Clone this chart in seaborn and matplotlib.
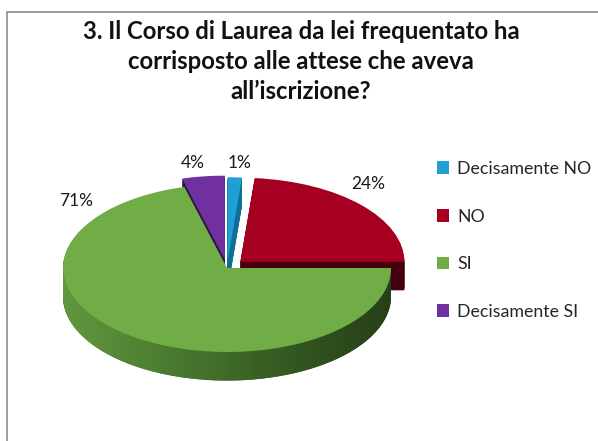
import numpy as np
import matplotlib
matplotlib.use("Agg")
import matplotlib.pyplot as plt
import seaborn as sns
from matplotlib.path import Path
from matplotlib.patches import PathPatch
from matplotlib.lines import Line2D
from matplotlib.colors import LinearSegmentedColormap

# ---- data ----
categories = ["Decisamente NO", "NO", "SI", "Decisamente SI"]
values = [1.4, 23.6, 70.8, 4.2]
title = ("3. Il Corso di Laurea da lei frequentato ha\n"
         "corrisposto alle attese che aveva\nall\u2019iscrizione?")

# ---- style ----
top_colors = ["#1f9fd4", "#a50021", "#70ad47", "#7030a0"]
side_colors = ["#0f6e96", "#45000e", "#3d6a27", "#2c1342"]
explode = [0.08, 0.11, 0.0, 0.1]

sns.set_theme(style="white")
plt.rcParams['font.family'] = ['Lato', 'DejaVu Sans']

W, H = 598, 441
fig = plt.figure(figsize=(W / 100, H / 100), dpi=100)
fig.patch.set_facecolor("white")

cx, cy = 227, 268      # pie centre in pixels (from top)
rx, ry = 164, 84       # ellipse radii in pixels
xl, yl = 1.38, 1.6
ax = fig.add_axes([(cx - xl * rx) / W, (H - cy - yl * ry) / H,
                   2 * xl * rx / W, 2 * yl * ry / H])
depth = 0.34
n_layers = 36

for k in range(n_layers):
    dy = -depth * (1 - k / n_layers)
    w, _ = ax.pie(values, colors=side_colors, startangle=90, counterclock=False,
                  explode=explode, center=(0, dy), frame=False,
                  wedgeprops=dict(linewidth=0))
    for wd in w:
        wd.set_zorder(1)

wedges, _, autotexts = ax.pie(values, colors=top_colors, startangle=90,
                              counterclock=False, explode=explode, frame=False,
                              autopct='%1.0f%%', pctdistance=1.2,
                              wedgeprops=dict(linewidth=0),
                              textprops=dict(fontsize=12.5, color="#1a1a1a"))
for wd in wedges:
    wd.set_zorder(3)

# gradient on the front rim of the large slice
gcx, gcy = wedges[2].center
t = np.linspace(np.pi, 2 * np.pi, 240)
top_arc = np.column_stack([gcx + np.cos(t), gcy + np.sin(t)])
bot_arc = np.column_stack([gcx + np.cos(t[::-1]), gcy + np.sin(t[::-1]) - depth])
verts = np.vstack([top_arc, bot_arc, top_arc[:1]])
clip = PathPatch(Path(verts), facecolor="none", edgecolor="none", transform=ax.transData)
ax.add_patch(clip)
cmap = LinearSegmentedColormap.from_list("g", ["#62973f", "#4a7a30", "#355a22", "#273f18"])
grad = np.linspace(0, 1, 256).reshape(1, -1)
im = ax.imshow(grad, cmap=cmap, extent=[gcx - 1, gcx + 1, gcy - 1 - depth, gcy],
               aspect='auto', zorder=2, interpolation='bilinear')
im.set_clip_path(clip)

ax.set_aspect('auto')
ax.set_xlim(-xl, xl)
ax.set_ylim(-yl, yl)
ax.axis('off')

# percentage label layout (pixel positions)
label_px = [(240, 163), (368, 184), (76, 201), (193, 163)]
for txt, (px, py) in zip(autotexts, label_px):
    txt.set_position(((px - cx) / rx, (cy - py) / ry))
    txt.set_ha('center'); txt.set_va('center')
    txt.set_zorder(5)

# legend
fig.legend(wedges, categories, loc='upper left',
           bbox_to_anchor=(428 / W, 1 - 152 / H), frameon=False,
           fontsize=12.8, handlelength=0.7, handleheight=0.7,
           handletextpad=0.45, labelspacing=1.78, borderpad=0)

# title
fig.text(301 / W, 1 - 20 / H, title, ha='center', va='top', fontsize=17.2,
         fontweight='bold', color='#111111', linespacing=1.38)

# frame lines
fig.add_artist(Line2D([7 / W, 7 / W, 1], [0, 1 - 12 / H, 1 - 12 / H],
                      transform=fig.transFigure, color="#8c8c8c", lw=1.2))

fig.savefig("out.png", dpi=100, facecolor="white")
